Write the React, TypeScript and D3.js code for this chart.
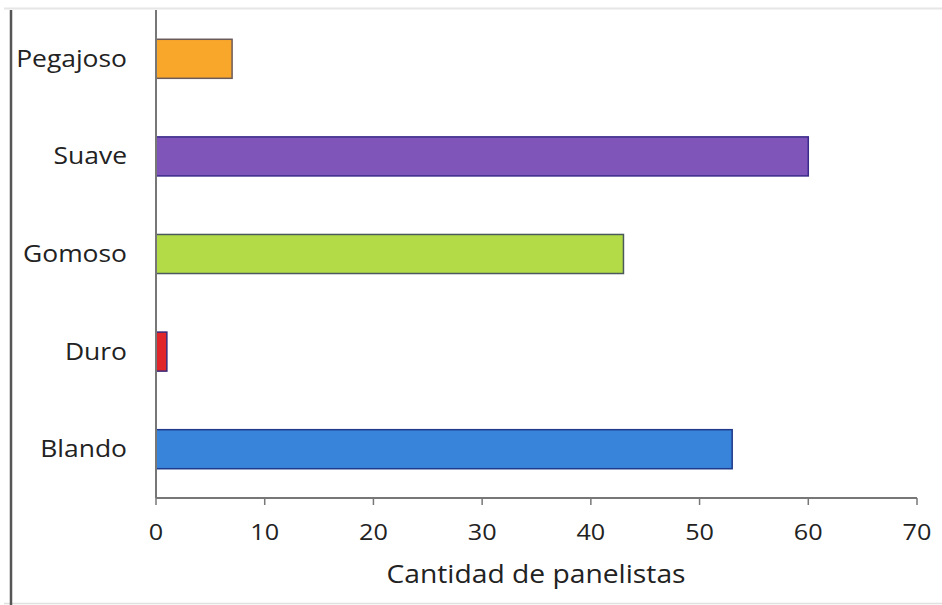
import React from "react";
import * as d3 from "d3";

const categories = ["Pegajoso", "Suave", "Gomoso", "Duro", "Blando"];
const values = [7, 60, 43, 1, 53];
const fills = ["#F9A72B", "#7F55BA", "#B3DB48", "#E0262B", "#3984DB"];
const strokes = ["#6b5a5a", "#3a2a8a", "#4a5a5a", "#3a2a7a", "#1f3a8a"];
const xTicks = [0, 10, 20, 30, 40, 50, 60, 70];
const xTitle = "Cantidad de panelistas";

const W = 942;
const H = 605;
const m = { left: 156, right: 942 - 917, top: 10, bottom: 605 - 498 };

export default function App() {
  const x = d3.scaleLinear().domain([0, 70]).range([m.left, W - m.right]);
  const y = d3
    .scaleBand<string>()
    .domain(categories)
    .range([m.top, H - m.bottom])
    .paddingInner(0.6)
    .paddingOuter(0.3);
  const y0 = H - m.bottom;
  const font = "'Open Sans', sans-serif";
  return (
    <svg
      width={W}
      height={H}
      style={{ position: "absolute", left: 0, top: 0, background: "#fff" }}
    >
      <line x1={4} x2={W} y1={8.5} y2={8.5} stroke="#e6e6e6" strokeWidth={2} />
      <line x1={4} x2={W} y1={603.5} y2={603.5} stroke="#e0e0e0" strokeWidth={1.5} />
      <line x1={11} x2={11} y1={10} y2={H} stroke="#555" strokeWidth={2.5} />
      {categories.map((c, i) => (
        <rect
          key={c}
          x={x(0)}
          y={y(c)!}
          width={x(values[i]) - x(0)}
          height={y.bandwidth()}
          fill={fills[i]}
          stroke={strokes[i]}
          strokeWidth={1.5}
        />
      ))}
      <line x1={m.left} x2={m.left} y1={m.top} y2={y0} stroke="#777" strokeWidth={2} />
      <line x1={m.left} x2={x(70)} y1={y0} y2={y0} stroke="#777" strokeWidth={2} />
      {xTicks.map((t) => (
        <g key={t}>
          <line x1={x(t)} x2={x(t)} y1={y0} y2={y0 + 7} stroke="#777" strokeWidth={1.5} />
          <text
            transform={`translate(${x(t)},540) scale(1.2,1)`}
            textAnchor="middle"
            fontFamily={font}
            fontSize={21}
            fill="#222"
          >
            {t}
          </text>
        </g>
      ))}
      {categories.map((c) => (
        <text
          key={c}
          transform={`translate(127,${y(c)! + y.bandwidth() / 2}) scale(1.15,1)`}
          dy="0.35em"
          textAnchor="end"
          fontFamily={font}
          fontSize={23}
          fill="#222"
        >
          {c}
        </text>
      ))}
      <text
        transform={`translate(536,583) scale(1.13,1)`}
        textAnchor="middle"
        fontFamily={font}
        fontSize={25}
        fill="#222"
      >
        {xTitle}
      </text>
    </svg>
  );
}
